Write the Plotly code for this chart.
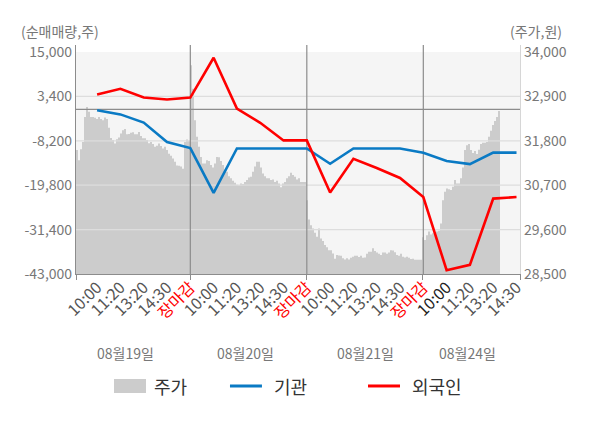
import plotly.graph_objects as go

# -------- 데이터 --------
labels = ["10:00", "11:20", "13:20", "14:30", "장마감",
          "10:00", "11:20", "13:20", "14:30", "장마감",
          "10:00", "11:20", "13:20", "14:30", "장마감",
          "10:00", "11:20", "13:20", "14:30"]
dates = ["08월19일", "08월20일", "08월21일", "08월24일"]

# 순매매량(주)
inst = [-200, -1300, -3450, -8500, -10100,
        -21800, -10200, -10200, -10200, -10200,
        -14200, -10200, -10200, -10200, -11300,
        -13500, -14300, -11300, -11300]
foreign = [3900, 5400, 3100, 2600, 3100,
           13500, 200, -3500, -8100, -8100,
           -21700, -12900, -15300, -17900, -22900,
           -42000, -40600, -23300, -22900]

# 주가(원), 장중 흐름
price_d1 = [31570, 31320, 31590, 31770, 32390, 32640, 32520, 32390, 32390, 32370,
            32340, 32390, 32340, 32310, 32380, 32340, 32120, 31870, 31820, 31730,
            31840, 31880, 31980, 32060, 32090, 31960, 31970, 32000, 32010, 31960,
            31960, 32020, 31920, 31860, 31860, 31820, 31740, 31770, 31720, 31650,
            31680, 31730, 31670, 31610, 31650, 31570, 31480, 31430, 31360, 31280,
            31190, 31180, 31160, 31110, 31770, 31830, 31800]
price_d2 = [33670, 33090, 32310, 31900, 31650, 31400, 31240, 31240, 31320, 31300,
            31200, 31140, 31240, 31400, 31390, 31300, 31200, 31090, 31030, 30920,
            30870, 30810, 30760, 30710, 30700, 30740, 30730, 30780, 30830, 30890,
            30910, 31030, 31160, 31280, 31280, 31140, 30990, 30920, 30870, 30870,
            30830, 30840, 30780, 30810, 30740, 30650, 30740, 30780, 30870, 30920,
            31010, 30950, 30910, 30840, 30870, 30780, 30780, 30780]
price_d3 = [30330, 29850, 29710, 29630, 29520, 29420, 29630, 29380, 29320, 29220,
            29160, 29090, 29090, 29010, 28880, 28970, 28960, 28950, 28890, 28860,
            28890, 28860, 28900, 28930, 28950, 28950, 28920, 28950, 28900, 28910,
            29000, 29050, 29050, 29140, 29070, 29030, 29000, 28970, 29030, 29030,
            29000, 29030, 29090, 29080, 29040, 28970, 28950, 29000, 28930, 28910,
            28930, 28900, 28870, 28880, 28850, 28850, 28850, 28850]
price_d4 = [29410, 29340, 29460, 29550, 29480, 29510, 29460, 29550, 29570, 29750,
            30330, 30540, 30620, 30600, 30580, 30660, 30830, 30740, 30740, 30870,
            31140, 31570, 31690, 31720, 31570, 31500, 31550, 31470, 31580, 31720,
            31750, 31750, 31770, 31900, 32050, 32190, 32290, 32390, 32540, 32810]

price = price_d1 + price_d2 + price_d3 + price_d4
days = [price_d1, price_d2, price_d3, price_d4]

left_ticks = [15000, 3400, -8200, -19800, -31400, -43000]
right_ticks = [34000, 32900, 31800, 30700, 29600, 28500]

# -------- 스타일 --------
FONT = "Noto Sans CJK KR"
GRAY_AREA = "#cccccc"
BG = "#f5f5f5"
GRID = "#dddddd"
DARK = "#8c8c8c"
BLUE = "#0a7ac4"
RED = "#ff0000"

left_range = [-43000, 16830]
right_range = [28500, 34173]
cat_range = [-0.906, 18.15]
smp_range = [0, 222]

fig = go.Figure()

# 주가 면적 (기본 축 x / y)
fig.add_trace(go.Scatter(
    x=list(range(len(price))), y=price,
    xaxis="x", yaxis="y",
    mode="lines", line=dict(width=0, shape="hv"),
    fill="tozeroy", fillcolor=GRAY_AREA,
    name="주가", hoverinfo="skip", showlegend=False
))

# 격자선 / 0선 / 날짜 구분선 (겹침 축 x2 / y2, 면적 위에 그림)
for v in left_ticks[1:-1]:
    fig.add_trace(go.Scatter(
        x=cat_range, y=[v, v], xaxis="x2", yaxis="y2",
        mode="lines", line=dict(color=GRID, width=1.2),
        showlegend=False, hoverinfo="skip"
    ))
fig.add_trace(go.Scatter(
    x=cat_range, y=[0, 0], xaxis="x2", yaxis="y2",
    mode="lines", line=dict(color=DARK, width=1.2),
    showlegend=False, hoverinfo="skip"
))
for i, t in enumerate(labels):
    if t == "장마감":
        fig.add_trace(go.Scatter(
            x=[i, i], y=left_range, xaxis="x2", yaxis="y2",
            mode="lines", line=dict(color=DARK, width=1.2),
            showlegend=False, hoverinfo="skip"
        ))

fig.add_trace(go.Scatter(
    x=list(range(len(labels))), y=inst, xaxis="x2", yaxis="y2",
    mode="lines", line=dict(color=BLUE, width=2.6),
    name="기관", showlegend=False
))
fig.add_trace(go.Scatter(
    x=list(range(len(labels))), y=foreign, xaxis="x2", yaxis="y2",
    mode="lines", line=dict(color=RED, width=2.6),
    name="외국인", showlegend=False
))

# x축 라벨
ticktext = []
for i, t in enumerate(labels):
    if t == "장마감":
        ticktext.append('<span style="color:#ff0000">장마감</span>')
    elif i == len(labels) - 4:
        ticktext.append('<span style="color:#222222">' + t + "</span>")
    else:
        ticktext.append(t)

# 날짜 경계 (샘플 인덱스)
bounds = [0]
for d in days[:-1]:
    bounds.append(bounds[-1] + len(d))
bounds.append(smp_range[1])

date_pos = [1.2, 6.35, 11.5, 15.9]
annotations = [
    dict(text="(순매매량,주)", xref="paper", yref="paper", x=-0.036, y=1.06,
         xanchor="center", yanchor="middle",
         showarrow=False, font=dict(size=14, color="#777777")),
    dict(text="(주가,원)", xref="paper", yref="paper", x=1.036, y=1.06,
         xanchor="center", yanchor="middle",
         showarrow=False, font=dict(size=14, color="#777777")),
]
for d, p in zip(dates, date_pos):
    annotations.append(dict(text=d, xref="x2", yref="paper", x=p, y=-0.345,
                            xanchor="center", yanchor="middle",
                            showarrow=False, font=dict(size=14, color="#777777")))

# 범례 (수동)
legend_items = [("주가", "box", GRAY_AREA, 0.0856, 0.1712),
                ("기관", "line", BLUE, 0.3468, 0.4414),
                ("외국인", "line", RED, 0.6577, 0.7523)]
shapes = [dict(type="rect", xref="paper", x0=0, x1=1, yref="y2",
               y0=left_range[0], y1=left_ticks[0],
               fillcolor=BG, line=dict(width=0), layer="below")]
for name, kind, color, sx, tx in legend_items:
    if kind == "box":
        shapes.append(dict(type="rect", xref="paper", yref="paper",
                           x0=sx, x1=sx + 0.072, y0=-0.5197, y1=-0.4585,
                           fillcolor=color, line=dict(width=0)))
    else:
        shapes.append(dict(type="line", xref="paper", yref="paper",
                           x0=sx, x1=sx + 0.072, y0=-0.489, y1=-0.489,
                           line=dict(color=color, width=3)))
    annotations.append(dict(text=name, xref="paper", yref="paper", x=tx, y=-0.489,
                            xanchor="left", yanchor="middle", showarrow=False,
                            font=dict(size=18, color="#333333")))

fig.update_layout(
    width=600, height=428,
    margin=dict(l=76, r=80, t=45, b=154, autoexpand=False),
    paper_bgcolor="white", plot_bgcolor="white",
    font=dict(family=FONT, size=14, color="#666666"),
    showlegend=False,
    annotations=annotations,
    shapes=shapes,
    xaxis=dict(range=smp_range, showticklabels=False, showgrid=False, zeroline=False,
               showline=True, linecolor=DARK, linewidth=1.2, automargin=False,
               tickvals=bounds, ticks="outside", ticklen=5, tickcolor=DARK),
    yaxis=dict(range=right_range, side="right", anchor="x", automargin=False,
               tickvals=right_ticks, ticktext=[f"{v:,}" for v in right_ticks],
               showgrid=False, zeroline=False, ticks="",
               showline=True, linecolor="#d6d6d6", linewidth=1.2,
               tickfont=dict(size=14, color="#777777")),
    xaxis2=dict(range=cat_range, overlaying="x", side="bottom", anchor="y2",
                automargin=False,
                tickvals=list(range(len(labels))), ticktext=ticktext,
                tickangle=-45, ticks="", showgrid=False, zeroline=False, showline=False,
                tickfont=dict(size=16, color="#555555")),
    yaxis2=dict(range=left_range, overlaying="y", side="left", anchor="x2",
                automargin=False,
                tickvals=left_ticks, ticktext=[f"{v:,}" for v in left_ticks],
                showgrid=False, zeroline=False, ticks="",
                showline=True, linecolor=DARK, linewidth=1.2,
                tickfont=dict(size=14, color="#777777")),
)

# 페이지 여백 제거, 모드바 숨김
fig.write_html("out.html", config={"displayModeBar": False},
               post_script="document.body.style.margin='0';")
